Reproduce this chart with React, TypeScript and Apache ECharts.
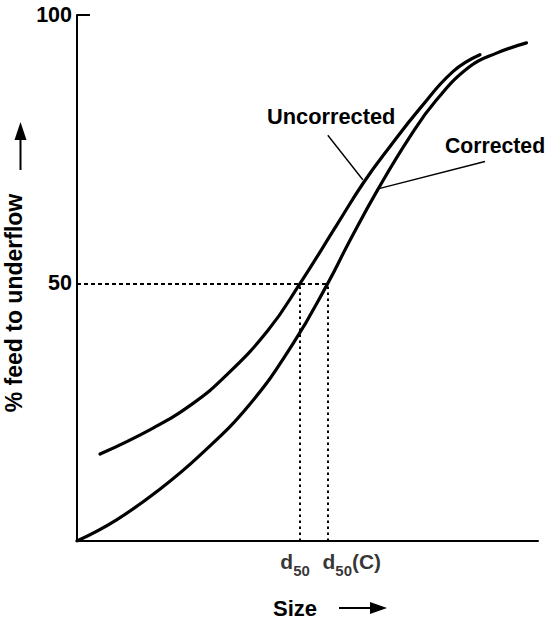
import React, { useEffect, useRef } from "react";
import * as echarts from "echarts";

// Axis ranges (size is in arbitrary units, % feed to underflow on y)
const sizeRange = [0, 100];
const pctRange = [2, 100];
const pctTicks = [50, 100];
const pctTickMarks = [100];

// Partition curves: [size, % feed to underflow]
const uncorrected = [
  [5.0, 18.2], [16.4, 23.0], [25.1, 27.6], [32.3, 32.8], [41.4, 41.2],
  [48.4, 50.0], [56.3, 60.8], [62.1, 68.7], [67.9, 75.5], [74.4, 82.6],
  [81.6, 89.5], [87.4, 92.6],
];
const corrected = [
  [0, 2.0], [8.5, 5.9], [17.9, 11.6], [26.7, 18.0], [37.4, 27.4],
  [46.9, 38.8], [54.4, 50.0], [59.2, 58.0], [65.4, 67.7], [72.2, 77.3],
  [78.0, 84.2], [85.2, 90.4], [91.0, 92.9], [97.5, 94.8],
];

// Cut sizes read at 50 % to underflow
const cutPct = 50;
const d50 = 48.4;
const d50C = 54.4;

// Leader lines from the curve names to the curves
const uncorrectedLeader = [[54.4, 77.6], [62.0, 69.3]];
const correctedLeader = [[88.5, 72.7], [65.7, 67.7]];

const FONT = "'Liberation Sans', Arial, Helvetica, sans-serif";
const INK = "#000";

export default function App() {
  const ref = useRef<HTMLDivElement>(null);

  useEffect(() => {
    if (!ref.current) return;
    const chart = echarts.init(ref.current, undefined, { renderer: "svg" });

    const dashed = (pts: number[][], dash: number[]) => [
      { coord: pts[0], lineStyle: { type: dash } },
      { coord: pts[1] },
    ];
    const leader = (pts: number[][]) => [
      { coord: pts[0], lineStyle: { type: "solid", width: 1.4 } },
      { coord: pts[1] },
    ];

    const richCut = {
      d: { fontSize: 21, fontWeight: "bold", fontFamily: FONT, color: INK, lineHeight: 26 },
      s: { fontSize: 15, fontWeight: "bold", fontFamily: FONT, color: INK, padding: [18, 0, 0, 0] },
    };

    const curveLine = { color: INK, width: 3.2, cap: "round" };

    chart.setOption({
      animation: false,
      backgroundColor: "#fff",
      grid: { left: 77, right: 9, top: 15, bottom: 80 },
      xAxis: {
        type: "value",
        min: sizeRange[0],
        max: sizeRange[1],
        axisLine: { show: true, lineStyle: { color: INK, width: 2 } },
        axisTick: { show: false },
        axisLabel: { show: false },
        splitLine: { show: false },
      },
      yAxis: {
        type: "value",
        min: pctRange[0],
        max: pctRange[1],
        axisLine: { show: true, lineStyle: { color: INK, width: 2 } },
        axisTick: {
          show: true,
          inside: true,
          length: 13,
          customValues: pctTickMarks,
          lineStyle: { color: INK, width: 2 },
        },
        axisLabel: {
          show: true,
          customValues: pctTicks,
          margin: 5,
          color: INK,
          fontSize: 21.5,
          fontWeight: "bold",
          fontFamily: FONT,
        },
        splitLine: { show: false },
      },
      series: [
        {
          name: "Uncorrected",
          type: "line",
          data: uncorrected,
          smooth: 0.45,
          showSymbol: false,
          symbol: "none",
          lineStyle: curveLine,
          z: 3,
          markLine: {
            silent: true,
            symbol: "none",
            label: { show: false },
            lineStyle: { color: INK, width: 2 },
            data: [
              dashed([[0, cutPct], [d50C, cutPct]], [4, 3]),
              dashed([[d50, pctRange[0]], [d50, cutPct]], [2.5, 3.5]),
              dashed([[d50C, pctRange[0]], [d50C, cutPct]], [2.5, 3.5]),
              leader(uncorrectedLeader),
              leader(correctedLeader),
            ],
          },
        },
        {
          name: "Corrected",
          type: "line",
          data: corrected,
          smooth: 0.45,
          showSymbol: false,
          symbol: "none",
          lineStyle: curveLine,
          z: 3,
        },
        {
          name: "cut sizes",
          type: "scatter",
          symbolSize: 0,
          silent: true,
          data: [
            {
              value: [d50, pctRange[0]],
              label: { formatter: "{d|d}{s|50}", offset: [-5, 0] },
            },
            {
              value: [d50C, pctRange[0]],
              label: { formatter: "{d|d}{s|50}{d|(C)}", offset: [24, 0] },
            },
          ],
          label: {
            show: true,
            position: "bottom",
            distance: 4,
            color: INK,
            rich: richCut,
          },
        },
      ],
      graphic: [
        {
          type: "text",
          x: 14,
          y: 303,
          rotation: Math.PI / 2,
          style: {
            text: "% feed to underflow",
            fontSize: 23,
            fontWeight: "bold",
            fontFamily: FONT,
            fill: INK,
            align: "center",
            verticalAlign: "middle",
          },
        },
        {
          type: "line",
          shape: { x1: 20.5, y1: 170, x2: 20.5, y2: 136 },
          style: { stroke: INK, lineWidth: 2 },
        },
        {
          type: "polygon",
          shape: { points: [[20.5, 122], [14.5, 140], [26.5, 140]] },
          style: { fill: INK },
        },
        {
          type: "text",
          x: 267,
          y: 116,
          style: {
            text: "Uncorrected",
            fontSize: 21.8,
            fontWeight: "bold",
            fontFamily: FONT,
            fill: INK,
            align: "left",
            verticalAlign: "middle",
          },
        },
        {
          type: "text",
          x: 445,
          y: 145,
          style: {
            text: "Corrected",
            fontSize: 21.2,
            fontWeight: "bold",
            fontFamily: FONT,
            fill: INK,
            align: "left",
            verticalAlign: "middle",
          },
        },
        {
          type: "text",
          x: 273,
          y: 608,
          style: {
            text: "Size",
            fontSize: 22,
            fontWeight: "bold",
            fontFamily: FONT,
            fill: INK,
            align: "left",
            verticalAlign: "middle",
          },
        },
        {
          type: "line",
          shape: { x1: 339, y1: 608, x2: 374, y2: 608 },
          style: { stroke: INK, lineWidth: 2 },
        },
        {
          type: "polygon",
          shape: { points: [[387, 608], [370, 602], [370, 614]] },
          style: { fill: INK },
        },
      ],
    });

    return () => chart.dispose();
  }, []);

  return (
    <div
      ref={ref}
      style={{ position: "fixed", left: 0, top: 0, width: 547, height: 621, background: "#fff" }}
    />
  );
}
